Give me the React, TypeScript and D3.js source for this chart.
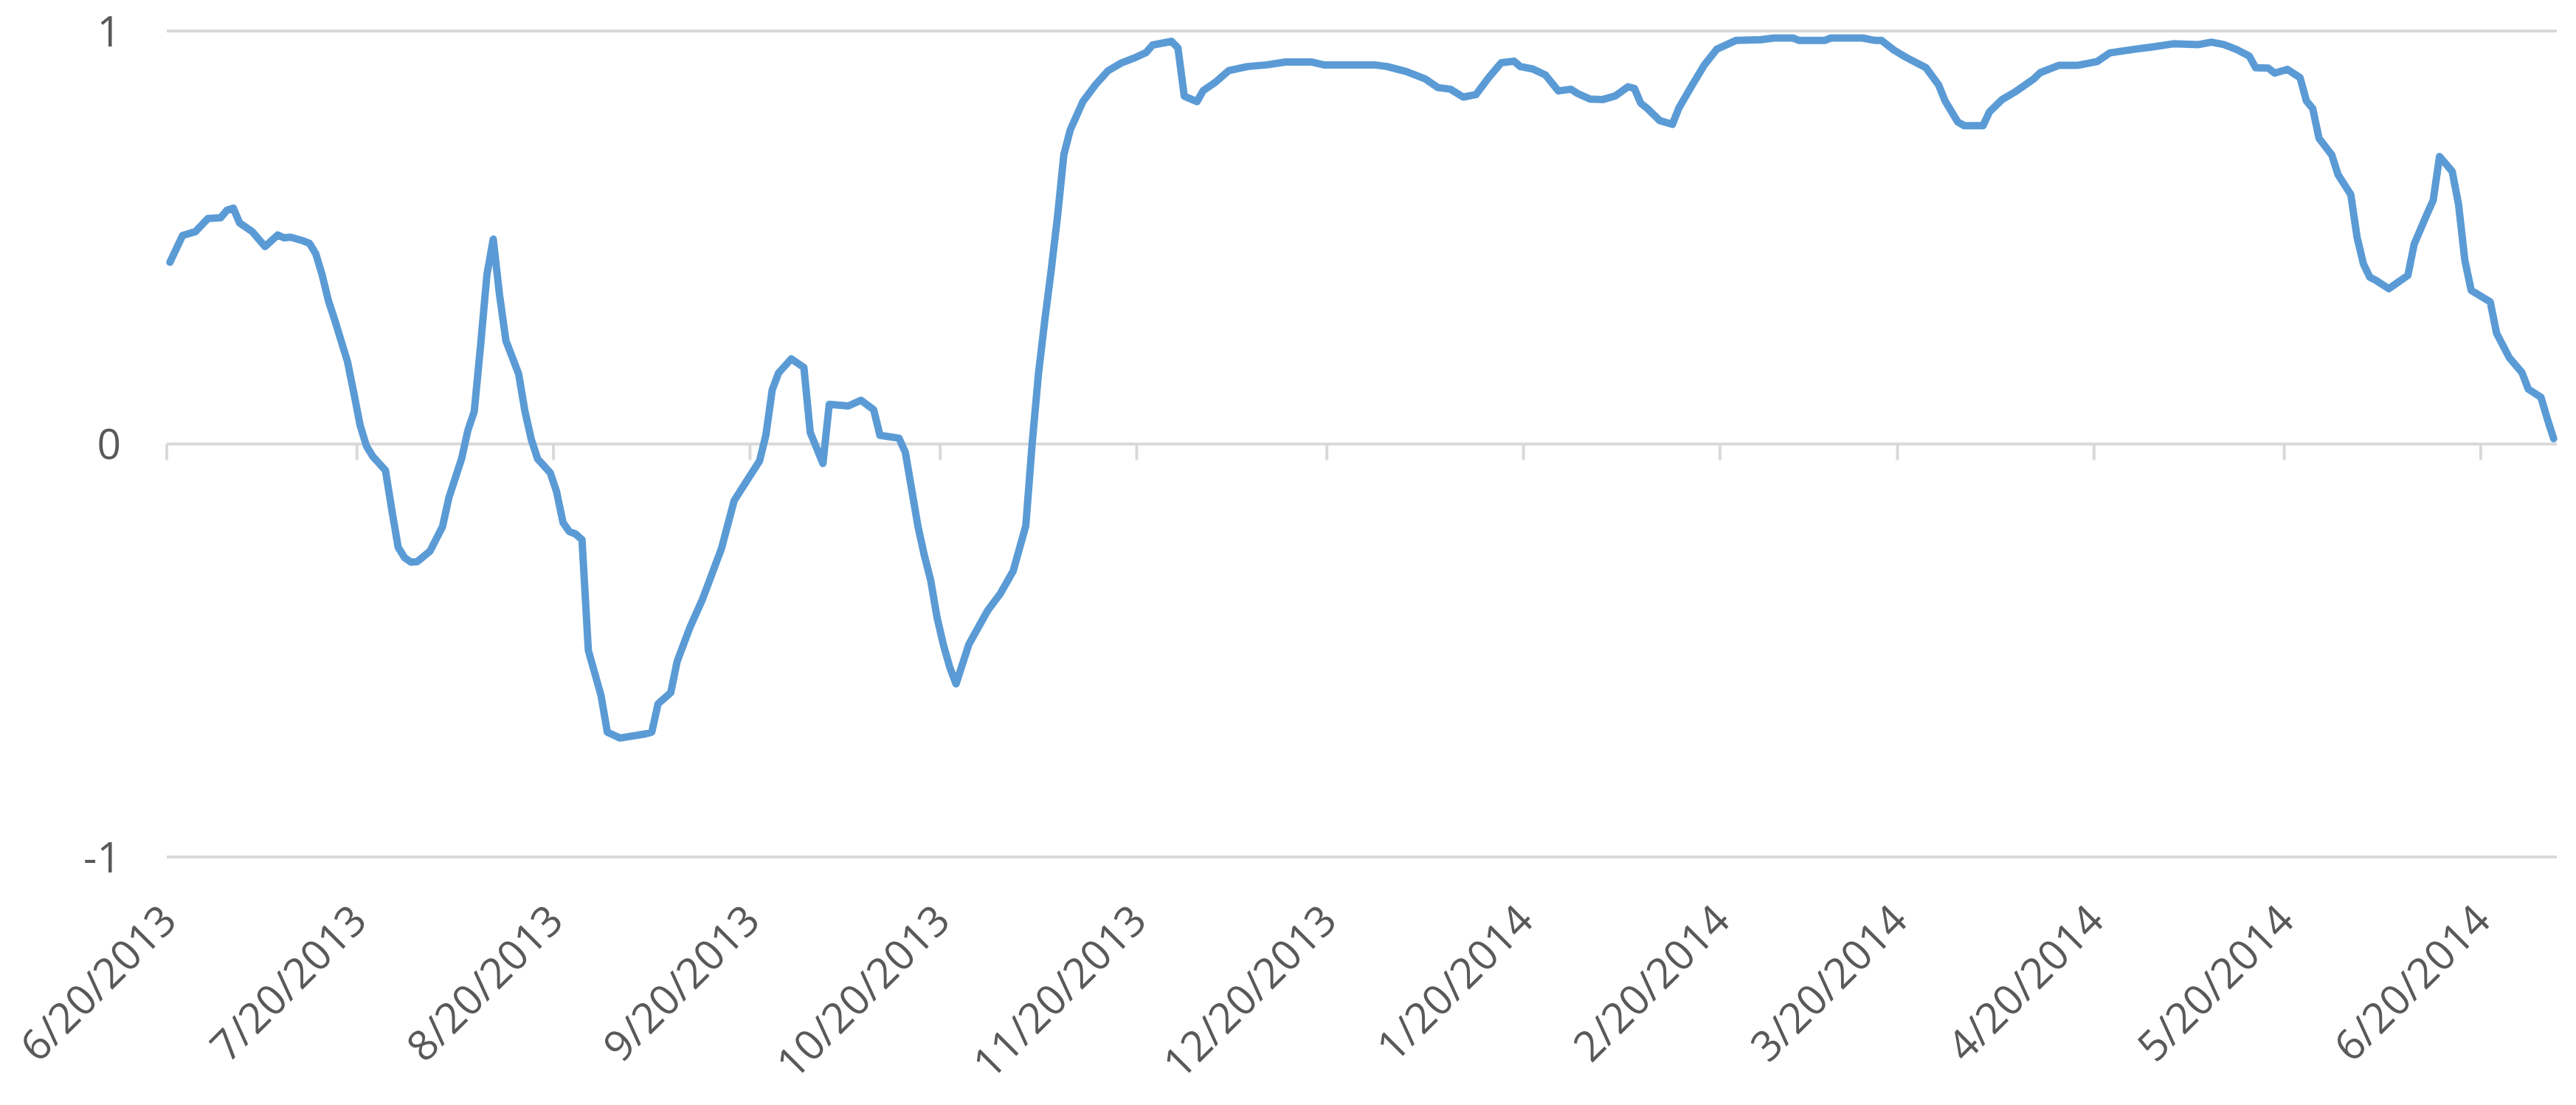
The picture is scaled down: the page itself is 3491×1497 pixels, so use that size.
import * as d3 from "d3";
import { useEffect, useRef } from "react";

// daily-ish readings of the series
const dates = [
  "2013-06-20", "2013-06-22", "2013-06-24", "2013-06-26", "2013-06-28", "2013-06-29", "2013-06-30",
  "2013-07-01", "2013-07-03", "2013-07-05", "2013-07-07", "2013-07-08", "2013-07-09", "2013-07-11",
  "2013-07-12", "2013-07-13", "2013-07-14", "2013-07-15", "2013-07-16", "2013-07-18", "2013-07-19",
  "2013-07-20", "2013-07-21", "2013-07-22", "2013-07-24", "2013-07-25", "2013-07-26", "2013-07-27",
  "2013-07-28", "2013-07-29", "2013-07-31", "2013-08-02", "2013-08-03", "2013-08-05", "2013-08-06",
  "2013-08-07", "2013-08-08", "2013-08-09", "2013-08-10", "2013-08-11", "2013-08-12", "2013-08-14",
  "2013-08-15", "2013-08-16", "2013-08-17", "2013-08-19", "2013-08-20", "2013-08-21", "2013-08-22",
  "2013-08-23", "2013-08-24", "2013-08-25", "2013-08-27", "2013-08-28", "2013-08-30", "2013-09-03",
  "2013-09-04", "2013-09-05", "2013-09-07", "2013-09-08", "2013-09-10", "2013-09-12", "2013-09-13",
  "2013-09-15", "2013-09-17", "2013-09-19", "2013-09-21", "2013-09-22", "2013-09-23", "2013-09-24",
  "2013-09-26", "2013-09-28", "2013-09-29", "2013-10-01", "2013-10-02", "2013-10-05", "2013-10-07",
  "2013-10-09", "2013-10-10", "2013-10-13", "2013-10-14", "2013-10-15", "2013-10-16", "2013-10-17",
  "2013-10-18", "2013-10-19", "2013-10-20", "2013-10-21", "2013-10-22", "2013-10-24", "2013-10-25",
  "2013-10-27", "2013-10-29", "2013-10-31", "2013-11-02", "2013-11-03", "2013-11-04", "2013-11-05",
  "2013-11-06", "2013-11-07", "2013-11-08", "2013-11-09", "2013-11-11", "2013-11-13", "2013-11-15",
  "2013-11-17", "2013-11-19", "2013-11-21", "2013-11-22", "2013-11-25", "2013-11-26", "2013-11-27",
  "2013-11-29", "2013-11-30", "2013-12-02", "2013-12-04", "2013-12-07", "2013-12-10", "2013-12-13",
  "2013-12-17", "2013-12-19", "2013-12-27", "2013-12-29", "2014-01-01", "2014-01-04", "2014-01-06",
  "2014-01-08", "2014-01-10", "2014-01-12", "2014-01-14", "2014-01-16", "2014-01-18", "2014-01-19",
  "2014-01-21", "2014-01-23", "2014-01-25", "2014-01-27", "2014-01-28", "2014-01-30", "2014-02-01",
  "2014-02-03", "2014-02-05", "2014-02-06", "2014-02-07", "2014-02-08", "2014-02-10", "2014-02-12",
  "2014-02-13", "2014-02-15", "2014-02-17", "2014-02-19", "2014-02-22", "2014-02-26", "2014-02-28",
  "2014-03-03", "2014-03-04", "2014-03-08", "2014-03-09", "2014-03-14", "2014-03-16", "2014-03-17",
  "2014-03-19", "2014-03-21", "2014-03-24", "2014-03-26", "2014-03-27", "2014-03-29", "2014-03-30",
  "2014-04-02", "2014-04-03", "2014-04-05", "2014-04-07", "2014-04-10", "2014-04-11", "2014-04-14",
  "2014-04-17", "2014-04-20", "2014-04-22", "2014-04-26", "2014-04-29", "2014-05-02", "2014-05-06",
  "2014-05-08", "2014-05-10", "2014-05-12", "2014-05-14", "2014-05-15", "2014-05-17", "2014-05-18",
  "2014-05-20", "2014-05-22", "2014-05-23", "2014-05-24", "2014-05-25", "2014-05-27", "2014-05-28",
  "2014-05-30", "2014-05-31", "2014-06-01", "2014-06-02", "2014-06-03", "2014-06-05", "2014-06-08",
  "2014-06-09", "2014-06-11", "2014-06-12", "2014-06-13", "2014-06-15", "2014-06-16", "2014-06-17",
  "2014-06-18", "2014-06-21", "2014-06-22", "2014-06-24", "2014-06-26", "2014-06-27", "2014-06-29",
  "2014-06-30", "2014-07-01",
];

const values = [
  0.44, 0.505, 0.514, 0.546, 0.548, 0.566, 0.571,
  0.535, 0.514, 0.478, 0.506, 0.499, 0.501, 0.492,
  0.486, 0.461, 0.41, 0.347, 0.3, 0.2, 0.124,
  0.045, -0.005, -0.03, -0.064, -0.16, -0.25, -0.275,
  -0.286, -0.285, -0.26, -0.2, -0.13, -0.036, 0.033,
  0.079, 0.238, 0.41, 0.496, 0.36, 0.25, 0.17,
  0.079, 0.011, -0.036, -0.07, -0.116, -0.19, -0.212,
  -0.218, -0.232, -0.5, -0.609, -0.698, -0.712, -0.702,
  -0.698, -0.629, -0.602, -0.527, -0.445, -0.376, -0.335,
  -0.253, -0.137, -0.089, -0.041, 0.021, 0.131, 0.172,
  0.206, 0.185, 0.028, -0.047, 0.096, 0.092, 0.106,
  0.083, 0.021, 0.014, -0.02, -0.11, -0.2, -0.27,
  -0.33, -0.42, -0.486, -0.54, -0.581, -0.486, -0.458,
  -0.403, -0.362, -0.308, -0.198, 0.0, 0.17, 0.3,
  0.42, 0.55, 0.7, 0.76, 0.829, 0.87, 0.904,
  0.922, 0.934, 0.948, 0.966, 0.975, 0.959, 0.842,
  0.829, 0.856, 0.877, 0.904, 0.914, 0.918, 0.925,
  0.925, 0.918, 0.918, 0.914, 0.902, 0.884, 0.863,
  0.859, 0.84, 0.846, 0.887, 0.923, 0.927, 0.914,
  0.908, 0.893, 0.855, 0.859, 0.849, 0.835, 0.834,
  0.843, 0.865, 0.861, 0.825, 0.813, 0.783, 0.774,
  0.813, 0.866, 0.917, 0.956, 0.977, 0.979, 0.983,
  0.983, 0.977, 0.977, 0.983, 0.983, 0.977, 0.977,
  0.953, 0.935, 0.911, 0.869, 0.831, 0.78, 0.771,
  0.771, 0.804, 0.834, 0.852, 0.884, 0.899, 0.917,
  0.917, 0.926, 0.947, 0.956, 0.962, 0.969, 0.967,
  0.973, 0.967, 0.955, 0.939, 0.911, 0.91, 0.898,
  0.907, 0.887, 0.831, 0.812, 0.74, 0.7, 0.652,
  0.604, 0.5, 0.436, 0.404, 0.396, 0.376, 0.408,
  0.484, 0.556, 0.59, 0.696, 0.66, 0.58, 0.444,
  0.372, 0.344, 0.268, 0.209, 0.173, 0.133, 0.113,
  0.061, 0.013,
];

const tickDates = [
  "2013-06-20", "2013-07-20", "2013-08-20", "2013-09-20", "2013-10-20", "2013-11-20", "2013-12-20",
  "2014-01-20", "2014-02-20", "2014-03-20", "2014-04-20", "2014-05-20", "2014-06-20",
];
const yTicks = [-1, 0, 1];
const xDomain = ["2013-06-20", "2014-07-02"];

const W = 3491;
const H = 1497;

export default function App() {
  const svgRef = useRef(null);

  useEffect(() => {
    document.body.style.margin = "0";
    drawChart();
  }, []);

  function drawChart() {
    const parse = d3.utcParse("%Y-%m-%d");
    const fmt = d3.utcFormat("%-m/%-d/%Y");
    const svg = d3.select(svgRef.current);
    svg.selectAll("*").remove();

    const left = 226;
    const right = 3465;
    const x = d3.scaleUtc().domain(xDomain.map(parse)).range([left, right]);
    const y = d3.scaleLinear().domain([-1, 1]).range([1161, 42]);

    const grid = "#d9d9d9";
    const textColor = "#595959";
    const font = "'Open Sans', 'Liberation Sans', sans-serif";
    const fontSize = 57;

    // gridlines at +1 / -1
    svg
      .selectAll(".grid")
      .data(yTicks.filter((t) => t !== 0))
      .enter()
      .append("line")
      .attr("x1", left)
      .attr("x2", right)
      .attr("y1", (d) => y(d))
      .attr("y2", (d) => y(d))
      .attr("stroke", grid)
      .attr("stroke-width", 4);

    // horizontal axis at zero
    svg
      .append("line")
      .attr("x1", left)
      .attr("x2", right)
      .attr("y1", y(0))
      .attr("y2", y(0))
      .attr("stroke", grid)
      .attr("stroke-width", 4);

    svg
      .selectAll(".tick")
      .data(tickDates)
      .enter()
      .append("line")
      .attr("x1", (d) => x(parse(d)))
      .attr("x2", (d) => x(parse(d)))
      .attr("y1", y(0))
      .attr("y2", y(0) + 22)
      .attr("stroke", grid)
      .attr("stroke-width", 4);

    // y labels
    svg
      .selectAll(".ylab")
      .data(yTicks)
      .enter()
      .append("text")
      .attr("x", 164)
      .attr("y", (d) => y(d))
      .attr("dy", "0.36em")
      .attr("text-anchor", "end")
      .attr("fill", textColor)
      .attr("font-family", font)
      .attr("font-size", fontSize)
      .text((d) => String(d));

    // x labels, rotated
    svg
      .selectAll(".xlab")
      .data(tickDates)
      .enter()
      .append("text")
      .attr("transform", (d) => `translate(${x(parse(d)) + 2},1236) rotate(-45)`)
      .attr("dy", "0.36em")
      .attr("text-anchor", "end")
      .attr("fill", textColor)
      .attr("font-family", font)
      .attr("font-size", fontSize)
      .text((d) => fmt(parse(d)));

    // series line, points sit mid-day like Excel's date axis
    const pts = dates.map((d, i) => [x(d3.utcHour.offset(parse(d), 12)), y(values[i])]);
    const line = d3.line();
    svg
      .append("path")
      .attr("d", line(pts))
      .attr("fill", "none")
      .attr("stroke", "#5b9bd5")
      .attr("stroke-width", 10)
      .attr("stroke-linejoin", "round")
      .attr("stroke-linecap", "round");
  }

  return (
    <div>
      <svg ref={svgRef} width={W} height={H} style={{ display: "block", background: "#fff" }}></svg>
    </div>
  );
}
